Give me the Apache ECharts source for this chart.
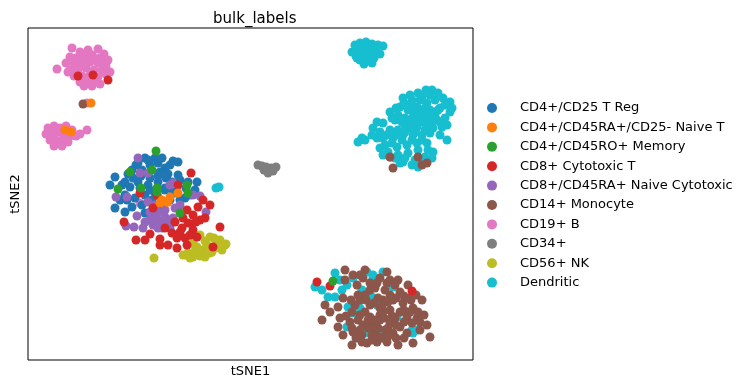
<!DOCTYPE html>
<html>
<head>
<meta charset="utf-8">
<script src="https://cdn.jsdelivr.net/npm/echarts@6/dist/echarts.min.js"></script>
<style>
html,body{margin:0;padding:0;background:#fff;}
#chart{width:738px;height:388px;}
</style>
</head>
<body>
<div id="chart"></div>
<script>
// Categories (legend order)
const categories = [
  "CD4+/CD25 T Reg",
  "CD4+/CD45RA+/CD25- Naive T",
  "CD4+/CD45RO+ Memory",
  "CD8+ Cytotoxic T",
  "CD8+/CD45RA+ Naive Cytotoxic",
  "CD14+ Monocyte",
  "CD19+ B",
  "CD34+",
  "CD56+ NK",
  "Dendritic"
];
const colors = ["#1f77b4","#ff7f0e","#2ca02c","#d62728","#9467bd","#8c564b","#e377c2","#7f7f7f","#bcbd22","#17becf"];

// tSNE coordinates [tSNE1, tSNE2] per category
const tReg = [[87,183],[100,186],[110,197],[117,202],[127,202],[130,197],[137,192],[145,199],[140,186],[102,173],[110,178],[120,175],[130,178],[137,172],[145,168],[97,165],[107,162],[117,165],[127,167],[124,157],[134,158],[142,160],[104,153],[87,152],[114,155],[134,152],[137,170],[147,167],[157,162],[167,170],[129,165],[124,160],[122,195],[104,190],[150,198],[169,178],[158,172],[92,160],[117,147],[132,188],[150,185],[114,190],[94,175],
  [97,178],[105,182],[113,184],[122,182],[130,184],[138,182],[144,178],[152,180],[160,178],[120,200],[134,202],[142,195],[112,172],[122,170],[152,160],[108,195],[99,160],[82,175],[97,148],[162,165]];
const naiveT = [[37,230],[43,228],[63,257],[134,160],[139,158],[142,163],[140,158],[150,167],[132,157]];
const memory = [[128,209],[102,188],[124,190],[90,171],[113,172],[129,172],[129,168],[159,175],[152,147],[160,167],[305,79]];
const cytotoxic = [[50,284],[65,285],[80,280],[112,167],[129,165],[150,175],[159,150],[165,145],[170,153],[175,160],[160,137],[154,132],[144,127],[149,122],[140,115],[132,121],[157,122],[165,130],[172,140],[192,133],[125,152],[159,115],[169,123],[163,187],[96,138],[108,120],[122,126],[185,113],[137,132],[147,138],[155,142],[164,136],[289,78],[302,74],[384,69],
  [152,128],[162,125],[168,138],[177,142],[182,155],[132,115],[149,112],[117,120]];
const naiveCyto = [[110,202],[112,187],[120,187],[99,163],[142,175],[147,152],[127,148],[130,148],[137,143],[132,138],[140,137],[145,142],[134,132],[125,135],[165,165],[178,148],[145,177],[88,163],[106,133],[98,134],[109,144],[122,148],[120,158],[135,140],[172,164],[117,138],[128,142],
  [127,155],[137,150],[122,140],[130,132],[142,132],[115,132],[152,155]];
const monocyte = [[362,203],[365,192],[390,203],[399,197],[394,195],[55,256],[317,90],[325,85],[335,82],[317,80],[329,75],[347,72],[315,62],[310,53],[294,40],[310,33],[322,38],[325,28],[315,25],[324,15],[332,45],[342,43],[352,45],[335,35],[345,35],[339,17],[349,18],[355,60],[354,22],[359,88],[349,77],[359,77],[372,68],[365,60],[375,57],[385,52],[379,43],[389,42],[399,35],[372,33],[362,37],[355,48],[350,62],[365,27],[379,27],[359,18],[370,15],[385,17],[362,65],[382,62],[337,65],[342,55],[352,52],[362,50],[367,42],[357,30],[347,28],[337,48],[332,60],[327,55],[342,70],[357,70],[367,75],[352,40],[344,25],[334,25],[324,48],[376,50],[392,30],[402,23],[337,90],
  [330,65],[338,60],[346,57],[354,54],[360,58],[368,62],[376,64],[383,60],[390,48],[382,48],[372,48],[364,44],[356,42],[348,40],[340,40],[330,40],[324,32],[332,30],[340,32],[350,32],[360,32],[368,35],[376,38],[384,37],[392,38],[396,45],[376,22],[368,22],[360,24],[352,23],[344,20],[334,18],[328,22],[318,44],[312,42],[302,48],[297,55],[323,60],[362,80],[370,80],[352,82],[342,77],[332,85],[380,75],[388,65],[394,60]];
const bCells = [[44,312],[52,308],[60,310],[70,311],[76,306],[42,303],[48,302],[56,304],[64,305],[72,302],[80,300],[38,297],[46,296],[54,298],[62,298],[70,297],[78,294],[42,290],[50,290],[58,292],[66,290],[74,290],[82,288],[29,291],[46,284],[54,284],[62,285],[70,283],[78,286],[52,278],[60,278],[68,280],[64,274],[56,274],[40,288],[72,276],[58,300],[66,302],[50,294],[76,296],[59,257],[20,232],[26,234],[32,232],[38,234],[18,226],[24,227],[30,228],[36,226],[42,224],[48,224],[52,226],[22,220],[28,220],[34,220],[40,218],[26,214],[34,214],[59,230],[44,230],[112,157]];
const cd34 = [[230,195],[234,194],[236,190],[240,187],[243,192],[248,193],[238,193],[245,189]];
const nk = [[172,125],[182,123],[189,117],[194,110],[184,108],[175,110],[169,113],[160,107],[155,105],[165,118],[179,115],[197,115],[126,102],[162,102],[170,124],[177,119],[186,122],[198,116],[167,109],[158,105],[172,104],[182,107],[162,116],
  [187,112],[165,103],[177,103],[192,120]];
const dendritic = [[327,315],[332,317],[338,318],[344,316],[350,315],[355,314],[324,308],[330,310],[336,311],[342,310],[348,308],[334,305],[340,304],[346,302],[352,306],[338,299],[344,297],[332,300],[328,304],[340,313],[334,314],[347,312],[329,302],[336,296],
  [404,270],[394,263],[384,260],[375,262],[415,262],[422,258],[407,260],[399,257],[389,253],[380,250],[372,253],[362,248],[412,252],[422,248],[404,248],[395,245],[385,243],[377,242],[367,240],[417,242],[409,240],[349,238],[355,237],[399,235],[389,233],[380,232],[370,230],[362,230],[405,232],[414,233],[345,232],[334,222],[330,218],[337,220],[349,222],[355,222],[365,222],[375,225],[385,225],[394,225],[402,227],[419,220],[369,213],[379,215],[389,217],[399,217],[405,208],[360,208],[355,205],[370,205],[380,207],[390,210],[397,203],[375,198],[384,195],[372,197],[392,200],[404,202],[362,203],[390,193],
  [397,252],[407,245],[390,240],[382,238],[412,238],[400,242],[387,248],[377,235],[370,245],[392,260],[402,265],
  [382,265],[390,267],[398,270],[410,267],[417,255],[424,252],[419,235],[410,250],[402,250],[392,248],[384,255],[376,257],[368,252],[364,242],[374,238],[384,234],[394,238],[404,238],[397,230],[387,228],[377,228],[367,225],[359,225],[352,228],[344,225],[357,215],[364,217],[374,220],[384,220],[394,220],[367,202],[377,202],[387,200],[352,212],[400,210],[412,225],
  [307,87],[287,73],[294,70],[300,63],[307,63],[314,70],[319,75],[325,82],[339,88],[345,82],[334,70],[344,63],[349,55],[320,53],[332,52],[325,47],[319,33],[330,22],[340,27],[349,28],[355,88],[345,85],[365,73],[369,43],[384,30],[389,30],[362,25],[345,23],[385,27],[312,80],
  [188,172],[191,173]];

const seriesData = {
  "CD4+/CD25 T Reg": tReg,
  "CD4+/CD45RA+/CD25- Naive T": naiveT,
  "CD4+/CD45RO+ Memory": memory,
  "CD8+ Cytotoxic T": cytotoxic,
  "CD8+/CD45RA+ Naive Cytotoxic": naiveCyto,
  "CD14+ Monocyte": monocyte,
  "CD19+ B": bCells,
  "CD34+": cd34,
  "CD56+ NK": nk,
  "Dendritic": dendritic
};
// drawing order (back to front)
const drawOrder = ["Dendritic","CD19+ B","CD34+","CD56+ NK","CD4+/CD25 T Reg","CD8+/CD45RA+ Naive Cytotoxic","CD14+ Monocyte","CD8+ Cytotoxic T","CD4+/CD45RO+ Memory","CD4+/CD45RA+/CD25- Naive T"];

const chart = echarts.init(document.getElementById('chart'), null, {renderer:'canvas'});
const font = 'DejaVu Sans';
chart.setOption({
  animation: false,
  backgroundColor: '#fff',
  title: {
    text: 'bulk_labels',
    left: 208, top: 7,
    textStyle: {fontFamily: font, fontSize: 15, fontWeight: 'normal', color: '#000'}
  },
  legend: {
    data: categories.map(c => ({name: c, icon: 'circle'})),
    orient: 'vertical',
    left: 482, top: 96,
    itemWidth: 30, itemHeight: 10, itemGap: 5.4,
    textStyle: {fontFamily: font, fontSize: 13, color: '#000', lineHeight: 14, padding: [0,0,0,8]},
    selectedMode: false
  },
  grid: {left: 28, top: 28, width: 445, height: 332, show: true, borderColor: '#000', borderWidth: 1, backgroundColor: 'transparent'},
  xAxis: {
    type: 'value', min: 0, max: 445,
    name: 'tSNE1', nameLocation: 'middle', nameGap: 5,
    nameTextStyle: {fontFamily: font, fontSize: 13, color: '#000'},
    axisLine: {show: false}, axisTick: {show: false}, axisLabel: {show: false}, splitLine: {show: false}
  },
  yAxis: {
    type: 'value', min: 0, max: 332,
    name: 'tSNE2', nameLocation: 'middle', nameGap: 6,
    nameTextStyle: {fontFamily: font, fontSize: 13, color: '#000'},
    axisLine: {show: false}, axisTick: {show: false}, axisLabel: {show: false}, splitLine: {show: false}
  },
  series: drawOrder.map(name => ({
    name: name,
    type: 'scatter',
    data: seriesData[name],
    symbol: 'circle',
    symbolSize: 9,
    itemStyle: {color: colors[categories.indexOf(name)], opacity: 1},
    emphasis: {disabled: true}
  }))
});
</script>
</body>
</html>
